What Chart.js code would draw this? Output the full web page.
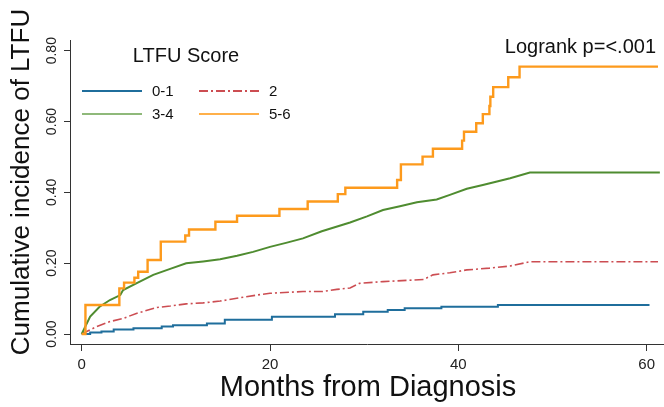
<!DOCTYPE html>
<html>
<head>
<meta charset="utf-8">
<script src="https://cdn.jsdelivr.net/npm/chart.js@4.4.1/dist/chart.umd.min.js"></script>
<style>
html,body{margin:0;padding:0;background:#fff;}
#wrap{width:664px;height:407px;}
</style>
</head>
<body>
<div id="wrap"><canvas id="c" width="664" height="407"></canvas></div>
<script>
// ---- data ----
const seriesLabels = ["0-1", "2", "3-4", "5-6"];

const blueT  = [0, 0.9, 2.1, 3.4, 5.5, 8.5, 9.7, 13.3, 15.2, 20.2, 26.9, 29.9, 32.5, 34.3, 38.2, 44.2, 60.3];
const blueV  = [0, 0.004, 0.007, 0.013, 0.016, 0.021, 0.025, 0.030, 0.040, 0.049, 0.056, 0.063, 0.068, 0.073, 0.077, 0.082, 0.082];

const redT   = [0, 1.6, 3.0, 4.4, 5.8, 8.0, 9.4, 11.1, 12.9, 14.7, 17.2, 18.6, 20.0, 23.5, 25.6, 27.1, 28.5, 29.5, 32.0, 36.3, 37.3, 39.1, 40.9, 43.3, 45.5, 47.6, 61.2];
const redV   = [0, 0.021, 0.035, 0.044, 0.058, 0.075, 0.079, 0.085, 0.088, 0.093, 0.104, 0.110, 0.115, 0.120, 0.120, 0.126, 0.130, 0.143, 0.148, 0.154, 0.167, 0.173, 0.181, 0.186, 0.192, 0.204, 0.204];

const greenT = [0, 0.2, 0.9, 1.9, 3.0, 4.1, 4.4, 5.8, 7.6, 9.4, 11.1, 12.9, 14.7, 16.5, 18.2, 20.0, 21.8, 23.5, 25.5, 28.5, 30.3, 32.0, 33.8, 35.6, 37.7, 39.1, 40.9, 42.6, 44.0, 45.5, 47.6, 61.4];
const greenV = [0, 0.011, 0.049, 0.077, 0.096, 0.110, 0.124, 0.143, 0.167, 0.184, 0.200, 0.205, 0.211, 0.221, 0.232, 0.246, 0.258, 0.270, 0.290, 0.315, 0.332, 0.350, 0.361, 0.372, 0.380, 0.393, 0.410, 0.421, 0.430, 0.440, 0.456, 0.456];

const orangeT = [0, 0.4, 4.0, 4.5, 5.6, 6.0, 7.0, 8.4, 11.0, 11.4, 14.2, 16.5, 21.0, 24.0, 27.2, 28.0, 33.5, 33.9, 36.2, 37.3, 40.4, 40.6, 41.9, 42.6, 43.3, 43.4, 43.7, 45.3, 46.5, 61.2];
const orangeV = [0, 0.082, 0.129, 0.145, 0.159, 0.176, 0.209, 0.261, 0.278, 0.295, 0.317, 0.334, 0.353, 0.374, 0.395, 0.413, 0.435, 0.479, 0.501, 0.523, 0.546, 0.571, 0.595, 0.621, 0.644, 0.670, 0.697, 0.725, 0.755, 0.755];

const xTicks = [0, 20, 40, 60];
const yTicks = [0, 0.2, 0.4, 0.6, 0.8];
const yTickLabels = ["0.00", "0.20", "0.40", "0.60", "0.80"];

const xTitle = "Months from Diagnosis";
const yTitle = "Cumulative incidence of LTFU";
const legendTitle = "LTFU Score";
const noteText = "Logrank p=<.001";

// ---- build ----
const FONT = '"Liberation Sans", Arial, Helvetica, sans-serif';
const pts = (t, v) => t.map((x, i) => ({x: x, y: v[i]}));

const datasets = [
  {label: seriesLabels[3], data: pts(orangeT, orangeV), borderColor: '#fd9a1c', borderWidth: 2.4, stepped: 'before', order: 0, legendColor: '#ffb04a'},
  {label: seriesLabels[2], data: pts(greenT, greenV), borderColor: '#4f8c30', borderWidth: 2.0, order: 1, legendColor: '#8fb97a'},
  {label: seriesLabels[1], data: pts(redT, redV), borderColor: '#cc4d52', borderWidth: 1.6, borderDash: [9, 3, 2, 3], order: 2, legendColor: '#cc4d52'},
  {label: seriesLabels[0], data: pts(blueT, blueV), borderColor: '#1f6e9c', borderWidth: 2.0, stepped: 'before', order: 3, legendColor: '#1f6e9c'}
];
datasets.forEach(d => { d.pointRadius = 0; d.fill = false; d.tension = 0; d.borderCapStyle = 'butt'; });

const overlay = {
  id: 'overlay',
  afterDraw(chart) {
    const ctx = chart.ctx;
    const ys = chart.scales.y;
    ctx.save();
    // rotated y tick labels
    ctx.fillStyle = '#222';
    ctx.font = '14px ' + FONT;
    ctx.textAlign = 'center';
    ctx.textBaseline = 'middle';
    yTicks.forEach((v, i) => {
      const py = ys.getPixelForValue(v);
      ctx.save();
      ctx.translate(52, py);
      ctx.rotate(-Math.PI / 2);
      ctx.fillText(yTickLabels[i], 0, 0);
      ctx.restore();
    });
    // y title
    ctx.fillStyle = '#111';
    ctx.font = '26px ' + FONT;
    ctx.save();
    ctx.translate(22, 182);
    ctx.rotate(-Math.PI / 2);
    ctx.fillText(yTitle, 0, 0);
    ctx.restore();
    // x title
    ctx.font = '29px ' + FONT;
    ctx.fillText(xTitle, 368, 388);
    // note
    ctx.font = '20px ' + FONT;
    ctx.textAlign = 'right';
    ctx.fillText(noteText, 656, 47);
    // legend
    ctx.textAlign = 'center';
    ctx.font = '20px ' + FONT;
    ctx.fillText(legendTitle, 186, 56);
    const slots = [
      {ds: 3, x: 82, y: 91},
      {ds: 2, x: 199, y: 91},
      {ds: 1, x: 82, y: 114},
      {ds: 0, x: 199, y: 114}
    ];
    ctx.font = '15px ' + FONT;
    ctx.textAlign = 'left';
    slots.forEach(s => {
      const d = chart.data.datasets[s.ds];
      ctx.save();
      ctx.strokeStyle = d.legendColor;
      ctx.lineWidth = 2;
      ctx.setLineDash(d.borderDash || []);
      ctx.beginPath();
      ctx.moveTo(s.x, s.y);
      ctx.lineTo(s.x + 60, s.y);
      ctx.stroke();
      ctx.restore();
      ctx.fillStyle = '#111';
      ctx.fillText(d.label, s.x + 70, s.y + 1);
    });
    ctx.restore();
  }
};

new Chart(document.getElementById('c'), {
  type: 'line',
  data: {datasets: datasets},
  plugins: [overlay],
  options: {
    responsive: false,
    animation: false,
    events: [],
    layout: {padding: {left: 0, right: 0, top: 40, bottom: 0}},
    plugins: {legend: {display: false}, tooltip: {enabled: false}},
    scales: {
      x: {
        type: 'linear',
        min: -1.24, max: 61.84,
        afterFit(s) { s.height = 63; },
        afterBuildTicks(s) { s.ticks = xTicks.map(v => ({value: v})); },
        grid: {display: true, drawOnChartArea: false, drawTicks: true, tickLength: 7, color: '#333', lineWidth: 1},
        border: {display: true, color: '#333', width: 1},
        ticks: {color: '#222', font: {size: 15, family: FONT}, padding: 5, maxRotation: 0, autoSkip: false, callback: v => String(v)}
      },
      y: {
        type: 'linear',
        min: -0.0282, max: 0.8302,
        afterFit(s) { s.width = 70; },
        afterBuildTicks(s) { s.ticks = yTicks.map(v => ({value: v})); },
        grid: {display: true, drawOnChartArea: false, drawTicks: true, tickLength: 6, color: '#333', lineWidth: 1},
        border: {display: true, color: '#333', width: 1},
        ticks: {color: 'rgba(0,0,0,0)', font: {size: 14, family: FONT}, padding: 2, autoSkip: false}
      }
    }
  }
});
</script>
</body>
</html>
